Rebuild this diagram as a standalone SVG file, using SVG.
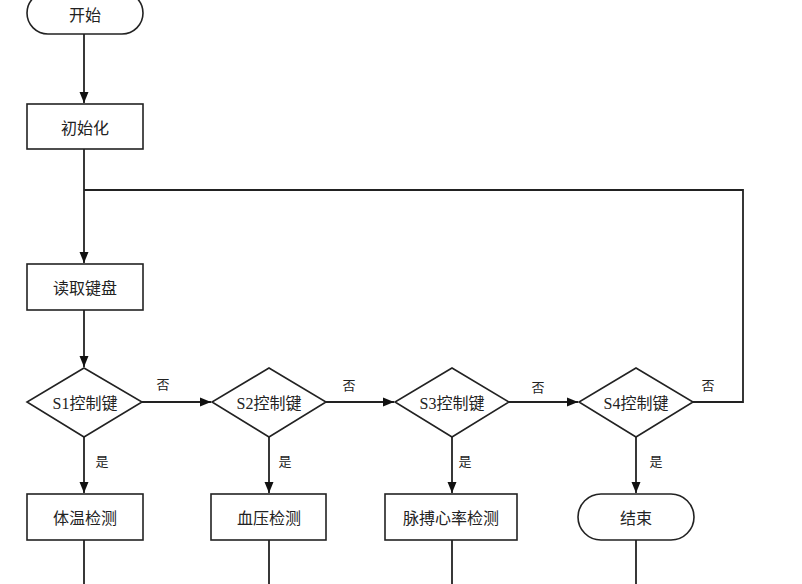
<svg xmlns="http://www.w3.org/2000/svg" width="802" height="584" viewBox="0 0 802 584">
<defs>
<marker id="arr" markerWidth="12" markerHeight="12" refX="11" refY="6" orient="auto" markerUnits="userSpaceOnUse">
<path d="M0,1.5 L11,6 L0,10.5 Z" fill="#111"/>
</marker>
<style>
.box{fill:#fff;stroke:#222;stroke-width:1.6}
.ln{fill:none;stroke:#222;stroke-width:1.8}
.t{font-family:"Noto Sans CJK SC","Liberation Sans",sans-serif;font-size:16px;fill:#222;text-anchor:middle;dominant-baseline:central}
.d{font-family:"Liberation Serif","Noto Sans CJK SC",serif;font-size:16px;fill:#222;text-anchor:middle;dominant-baseline:central}
.l{font-family:"Noto Sans CJK SC",sans-serif;font-size:13px;fill:#222;text-anchor:middle;dominant-baseline:central}
</style>
</defs>
<rect width="802" height="584" fill="#fff"/>
<g id="connectors">
<path class="ln" d="M84,34 V103" marker-end="url(#arr)"/>
<path class="ln" d="M84,149 V263" marker-end="url(#arr)"/>
<path class="ln" d="M84,310 V367" marker-end="url(#arr)"/>
<path class="ln" d="M693,402 H743 V190 H84"/>
<path class="ln" d="M142,402 H211" marker-end="url(#arr)"/>
<path class="ln" d="M326,402 H394" marker-end="url(#arr)"/>
<path class="ln" d="M509,402 H578" marker-end="url(#arr)"/>
<path class="ln" d="M84,437 V493" marker-end="url(#arr)"/>
<path class="ln" d="M269,437 V493" marker-end="url(#arr)"/>
<path class="ln" d="M452,437 V493" marker-end="url(#arr)"/>
<path class="ln" d="M636,437 V493" marker-end="url(#arr)"/>
<path class="ln" d="M84,540 V584"/>
<path class="ln" d="M269,540 V584"/>
<path class="ln" d="M452,540 V584"/>
<path class="ln" d="M636,540 V584"/>
<text class="l" x="163" y="383">否</text>
<text class="l" x="349" y="384">否</text>
<text class="l" x="538" y="386">否</text>
<text class="l" x="708" y="384">否</text>
<text class="l" x="102" y="460">是</text>
<text class="l" x="285" y="460">是</text>
<text class="l" x="465" y="460">是</text>
<text class="l" x="656" y="460">是</text>
</g>
<g id="start"><rect class="box" x="27" y="-8" width="116" height="42" rx="21"/><text class="t" x="85" y="14">开始</text></g>
<g id="init"><rect class="box" x="27" y="104" width="116" height="45"/><text class="t" x="85" y="127">初始化</text></g>
<g id="readkey"><rect class="box" x="27" y="264" width="116" height="46"/><text class="t" x="85" y="287">读取键盘</text></g>
<g id="s1"><path class="box" d="M84,368 L142,402 L84,437 L27,402 Z"/><text class="d" x="85" y="403">S1控制键</text></g>
<g id="s2"><path class="box" d="M269,368 L326,402 L269,437 L212,402 Z"/><text class="d" x="269" y="403">S2控制键</text></g>
<g id="s3"><path class="box" d="M452,368 L509,402 L452,437 L395,402 Z"/><text class="d" x="452" y="403">S3控制键</text></g>
<g id="s4"><path class="box" d="M636,368 L693,402 L636,437 L579,402 Z"/><text class="d" x="636" y="403">S4控制键</text></g>
<g id="temp"><rect class="box" x="27" y="494" width="116" height="46"/><text class="t" x="85" y="517">体温检测</text></g>
<g id="bp"><rect class="box" x="211" y="494" width="115" height="46"/><text class="t" x="269" y="517">血压检测</text></g>
<g id="pulse"><rect class="box" x="385" y="494" width="132" height="46"/><text class="t" x="451" y="517">脉搏心率检测</text></g>
<g id="end"><rect class="box" x="578" y="494" width="116" height="46" rx="23"/><text class="t" x="636" y="517">结束</text></g>
</svg>
